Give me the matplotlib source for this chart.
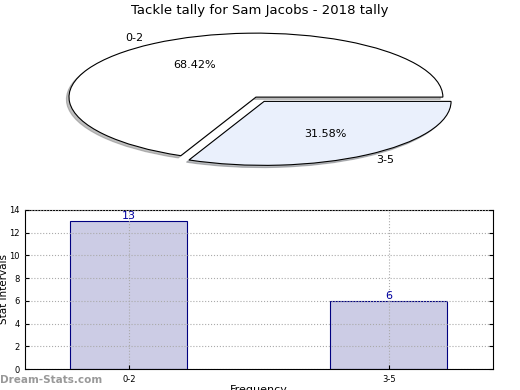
import numpy as np
import matplotlib.pyplot as plt

categories = ['0-2', '3-5']
counts = [13, 6]
pie_colors = ['#ffffff', '#eaf0fc']
explode = [0, 0.08]


def plot_tally():
    fig = plt.figure(figsize=(5.2, 3.9), dpi=100)

    # pie (not equal aspect -> squashed ellipse like the original)
    ax_pie = fig.add_axes([0.1327, 0.587, 0.719, 0.328])
    wedges, texts, autotexts = ax_pie.pie(
        counts, labels=categories, colors=pie_colors, explode=explode,
        autopct='%1.2f%%', startangle=0, counterclock=True,
        shadow={'ox': -0.01, 'oy': -0.025, 'shade': 0.5},
        wedgeprops={'edgecolor': 'black', 'linewidth': 0.8},
        textprops={'fontsize': 8})
    ax_pie.set_aspect('auto')
    ax_pie.set_xlim(-1, 1)
    ax_pie.set_ylim(-1, 1)
    ax_pie.axis('off')
    fig.text(0.5, 0.972, 'Tackle tally for Sam Jacobs - 2018 tally',
             ha='center', va='center', fontsize=9.5)

    # bars
    ax = fig.add_axes([0.048, 0.0538, 0.9, 0.408])
    x = np.arange(len(categories))
    ax.bar(x, counts, width=0.45, color='#ccccE5', edgecolor='#000080',
           linewidth=0.8, zorder=1)
    for xi, c in zip(x, counts):
        ax.text(xi, c, str(c), ha='center', va='bottom', color='#0000a0',
                fontsize=8, zorder=3)
    ax.set_xlim(-0.4, 1.4)
    ax.set_ylim(0, 14)
    ax.set_yticks(np.arange(0, 15, 2))
    ax.set_xticks(x)
    ax.set_xticklabels(categories)
    ax.tick_params(labelsize=6, direction='in', length=3, right=True,
                   top=False, pad=4)
    ax.grid(True, ls=':', color='#aaaaaa', lw=0.8, zorder=2)
    ax.set_axisbelow(False)
    ax.set_ylabel('Stat Intervals', fontsize=7.5)
    ax.yaxis.set_label_coords(-0.034, 0.5)
    ax.set_xlabel('Frequency', fontsize=8)
    ax.xaxis.set_label_coords(0.5, -0.098)

    fig.text(0.0, 0.025, 'Dream-Stats.com', ha='left', va='center',
             fontsize=7.5, color='#999999', fontweight='bold')

    fig.savefig('out.png', dpi=100)


if __name__ == '__main__':
    plot_tally()
